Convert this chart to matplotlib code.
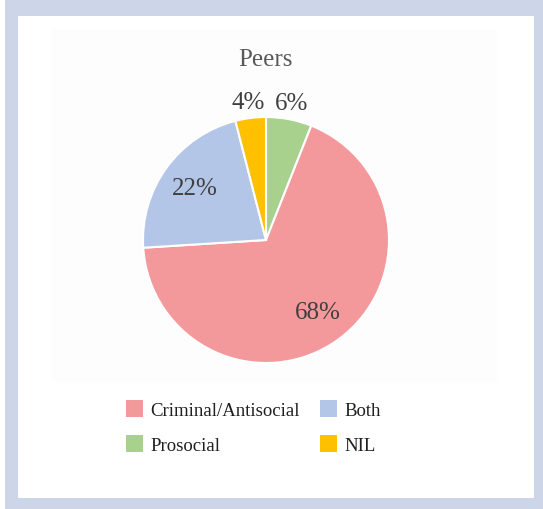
import numpy as np
import matplotlib.pyplot as plt
from matplotlib.patches import Rectangle

# data
categories = ['Prosocial', 'Criminal/Antisocial', 'Both', 'NIL']
values = [6, 68, 22, 4]
colors = ['#A9D18E', '#F4999B', '#B4C6E7', '#FFC000']
label_dist = [1.13, 0.72, 0.72, 1.13]
legend_order = ['Criminal/Antisocial', 'Prosocial', 'Both', 'NIL']

W, H = 543, 510
fig = plt.figure(figsize=(W / 100, H / 100), dpi=100)
fig.patch.set_facecolor('white')

def px_rect(x0, y0, x1, y1, color):
    # rectangle given in pixel coords from top-left
    r = Rectangle((x0 / W, 1 - y1 / H), (x1 - x0) / W, (y1 - y0) / H,
                  transform=fig.transFigure, facecolor=color, edgecolor='none', zorder=-10)
    fig.add_artist(r)

# frame
px_rect(5, 0, 543, 510, '#CCD6E8')
px_rect(18, 17, 534, 499, 'white')
px_rect(51, 30, 497, 383, '#FDFDFD')

# pie axes, center (266, 241), radius 123 px
cx, cy, R = 266, 241, 123
lim = 1.25
side = 2 * R * lim
ax = fig.add_axes([(cx - side / 2) / W, (H - cy - side / 2) / H, side / W, side / H])
wedges, _ = ax.pie(values, colors=colors, startangle=90, counterclock=False,
                   wedgeprops=dict(edgecolor='white', linewidth=1.5))
ax.set_xlim(-lim, lim)
ax.set_ylim(-lim, lim)
ax.axis('off')

for w, v, d in zip(wedges, values, label_dist):
    ang = np.deg2rad((w.theta1 + w.theta2) / 2)
    ax.text(d * np.cos(ang), d * np.sin(ang), f'{v}%', ha='center', va='center',
            fontsize=18, color='#3F3F3F', family='Liberation Serif')

fig.text(265 / W, 1 - 60 / H, 'Peers', ha='center', va='center',
         fontsize=18, color='#595959', family='Liberation Serif')

handles = [wedges[categories.index(c)] for c in legend_order]
fig.legend(handles, legend_order, ncol=2, loc='center',
           bbox_to_anchor=(253.5 / W, 1 - 428 / H), frameon=False,
           prop={'family': 'Liberation Serif', 'size': 13.5},
           handlelength=0.9, handleheight=1.0, handletextpad=0.4,
           columnspacing=1.1, labelspacing=0.85, borderpad=0)
for h in fig.legends[0].legend_handles:
    h.set_edgecolor('none')
for t in fig.legends[0].get_texts():
    t.set_color('#1F1F1F')

fig.savefig('out.png', dpi=100)
